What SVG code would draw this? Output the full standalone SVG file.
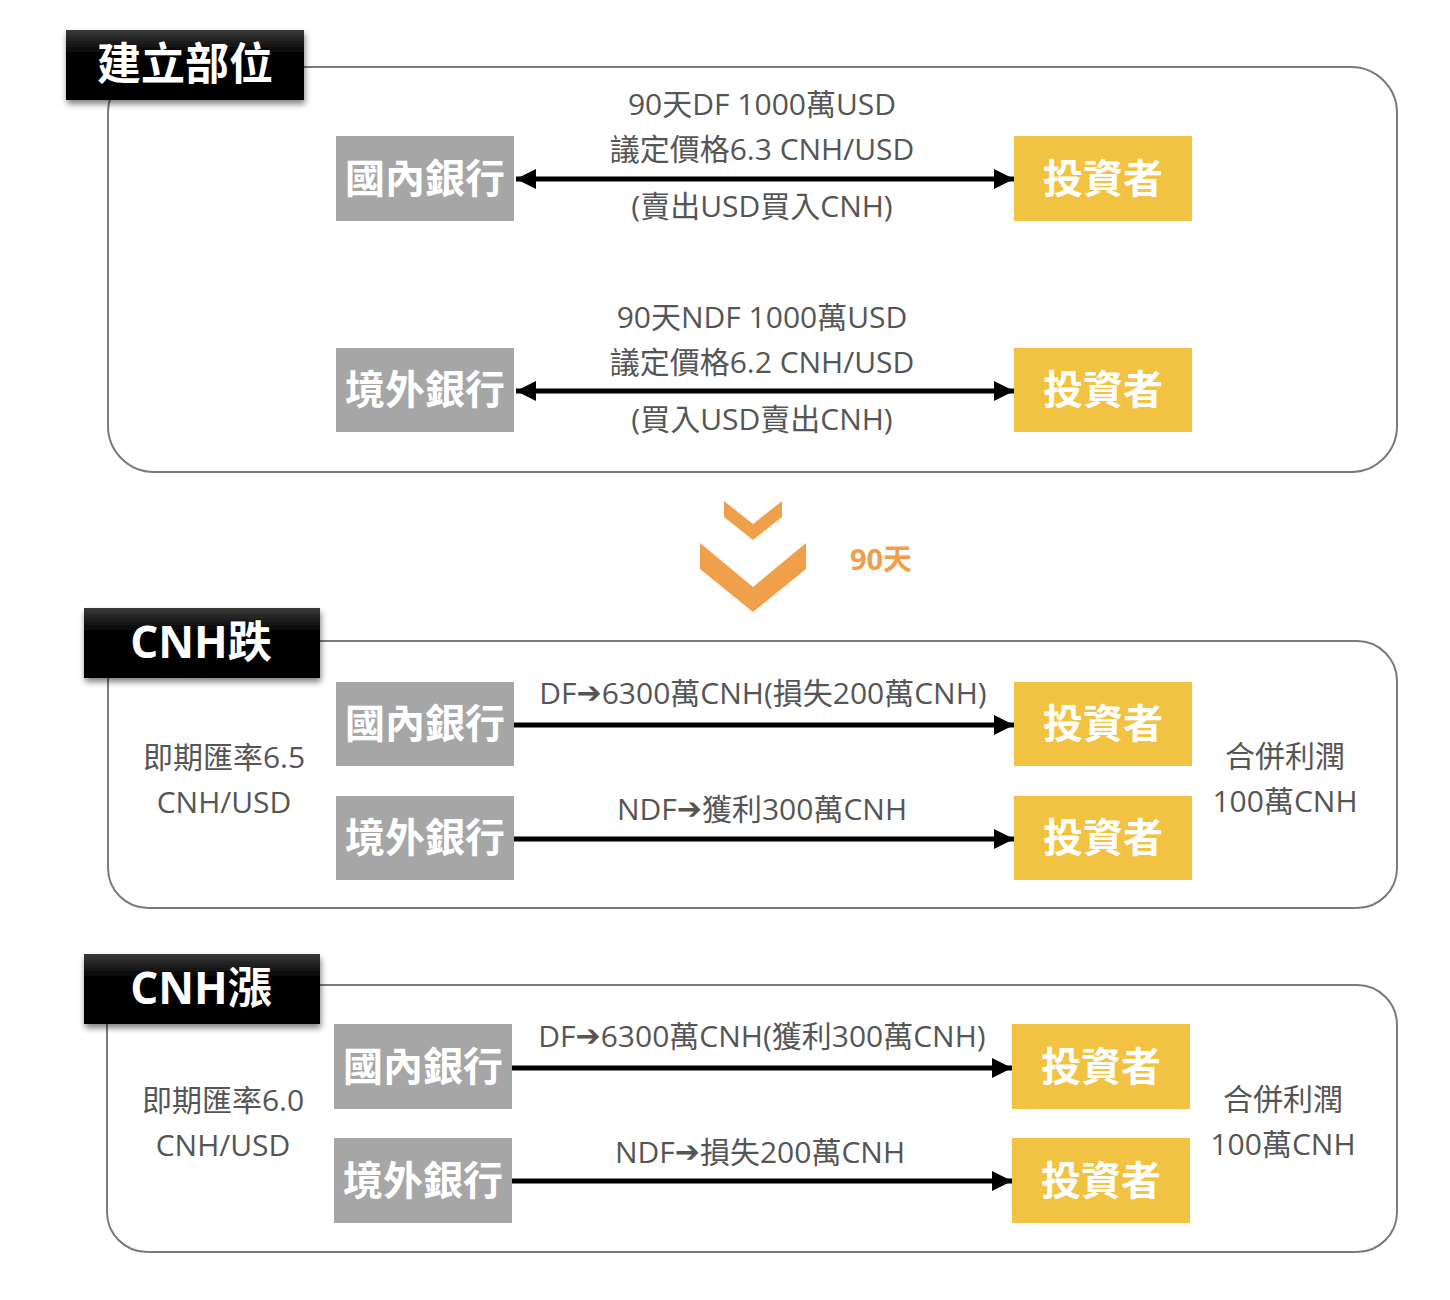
<svg xmlns="http://www.w3.org/2000/svg" width="1450" height="1300" viewBox="0 0 1450 1300">
<defs>
<linearGradient id="hdr" x1="0" y1="0" x2="0" y2="1">
<stop offset="0" stop-color="#3a3a3a"/>
<stop offset="0.35" stop-color="#000"/>
<stop offset="1" stop-color="#000"/>
</linearGradient>
<filter id="sh" x="-10%" y="-20%" width="130%" height="150%">
<feGaussianBlur in="SourceAlpha" stdDeviation="3"/>
<feOffset dx="1" dy="4"/>
<feComponentTransfer><feFuncA type="linear" slope="0.5"/></feComponentTransfer>
<feMerge><feMergeNode/><feMergeNode in="SourceGraphic"/></feMerge>
</filter>
<marker id="ah" viewBox="0 0 10 10" refX="10" refY="5" markerWidth="4" markerHeight="4" orient="auto-start-reverse" markerUnits="strokeWidth">
<path d="M0,0 L10,5 L0,10 z" fill="#000"/>
</marker>
</defs>
<style>
.frame{fill:#fff;stroke:#7a7a7a;stroke-width:2}
.hdr{fill:url(#hdr);filter:url(#sh)}
.ht{font-family:"Open Sans","Noto Sans CJK TC",sans-serif;font-weight:bold;font-size:44px;fill:#fff;text-anchor:middle;dominant-baseline:central}
.gray{fill:#a6a6a6}
.yel{fill:#f2c242}
.nt{font-family:"Noto Sans CJK TC","Noto Sans",sans-serif;font-weight:bold;font-size:40px;fill:#fff;text-anchor:middle;dominant-baseline:central}
.lb{font-family:"Open Sans","Noto Sans CJK TC",sans-serif;font-size:30px;fill:#555;text-anchor:middle;dominant-baseline:central}
.hv{font-family:"DejaVu Sans",sans-serif;font-weight:bold}
.ar{stroke:#000;stroke-width:5;fill:none}
.or{fill:#f0a04b}
</style>

<!-- Section frames -->
<g id="sec1">
<rect class="frame" x="108" y="67" width="1289" height="405" rx="46"/>
<rect class="hdr" x="66" y="30" width="238" height="70"/>
<text class="ht" x="185" y="63">建立部位</text>
</g>
<g id="sec2">
<rect class="frame" x="108" y="641" width="1289" height="267" rx="40"/>
<rect class="hdr" x="84" y="608" width="236" height="70"/>
<text class="ht" x="201" y="641">CNH跌</text>
<text class="lb" x="224" y="756">即期匯率6.5</text>
<text class="lb" x="224" y="801">CNH/USD</text>
<text class="lb" x="1285" y="755">合併利潤</text>
<text class="lb" x="1285" y="800">100萬CNH</text>
</g>
<g id="sec3">
<rect class="frame" x="107" y="985" width="1290" height="267" rx="40"/>
<rect class="hdr" x="84" y="954" width="236" height="70"/>
<text class="ht" x="201" y="987">CNH漲</text>
<text class="lb" x="223" y="1099">即期匯率6.0</text>
<text class="lb" x="223" y="1144">CNH/USD</text>
<text class="lb" x="1283" y="1098">合併利潤</text>
<text class="lb" x="1283" y="1143">100萬CNH</text>
</g>

<!-- Nodes -->
<g id="n1a"><rect class="gray" x="336" y="136" width="178" height="85"/><text class="nt" x="425" y="176">國內銀行</text></g>
<g id="n1b"><rect class="yel" x="1014" y="136" width="178" height="85"/><text class="nt" x="1103" y="176">投資者</text></g>
<g id="n1c"><rect class="gray" x="336" y="348" width="178" height="84"/><text class="nt" x="425" y="387">境外銀行</text></g>
<g id="n1d"><rect class="yel" x="1014" y="348" width="178" height="84"/><text class="nt" x="1103" y="387">投資者</text></g>

<g id="n2a"><rect class="gray" x="336" y="682" width="178" height="84"/><text class="nt" x="425" y="721">國內銀行</text></g>
<g id="n2b"><rect class="yel" x="1014" y="682" width="178" height="84"/><text class="nt" x="1103" y="721">投資者</text></g>
<g id="n2c"><rect class="gray" x="336" y="796" width="178" height="84"/><text class="nt" x="425" y="835">境外銀行</text></g>
<g id="n2d"><rect class="yel" x="1014" y="796" width="178" height="84"/><text class="nt" x="1103" y="835">投資者</text></g>

<g id="n3a"><rect class="gray" x="334" y="1024" width="178" height="85"/><text class="nt" x="423" y="1064">國內銀行</text></g>
<g id="n3b"><rect class="yel" x="1012" y="1024" width="178" height="85"/><text class="nt" x="1101" y="1064">投資者</text></g>
<g id="n3c"><rect class="gray" x="334" y="1138" width="178" height="85"/><text class="nt" x="423" y="1178">境外銀行</text></g>
<g id="n3d"><rect class="yel" x="1012" y="1138" width="178" height="85"/><text class="nt" x="1101" y="1178">投資者</text></g>

<!-- Connectors -->
<g id="connectors">
<line class="ar" x1="516" y1="179" x2="1014" y2="179" marker-start="url(#ah)" marker-end="url(#ah)"/>
<line class="ar" x1="516" y1="391" x2="1014" y2="391" marker-start="url(#ah)" marker-end="url(#ah)"/>
<line class="ar" x1="514" y1="725" x2="1014" y2="725" marker-end="url(#ah)"/>
<line class="ar" x1="514" y1="839" x2="1014" y2="839" marker-end="url(#ah)"/>
<line class="ar" x1="512" y1="1068" x2="1012" y2="1068" marker-end="url(#ah)"/>
<line class="ar" x1="512" y1="1181" x2="1012" y2="1181" marker-end="url(#ah)"/>
</g>

<!-- Connector labels -->
<g id="labels">
<text class="lb" x="762" y="103">90天DF 1000萬USD</text>
<text class="lb" x="762" y="148">議定價格6.3 CNH/USD</text>
<text class="lb" x="762" y="205">(賣出USD買入CNH)</text>
<text class="lb" x="762" y="316">90天NDF 1000萬USD</text>
<text class="lb" x="762" y="361">議定價格6.2 CNH/USD</text>
<text class="lb" x="762" y="418">(買入USD賣出CNH)</text>
<text class="lb" x="763" y="692">DF<tspan class="hv">➔</tspan>6300萬CNH(損失200萬CNH)</text>
<text class="lb" x="762" y="808">NDF<tspan class="hv">➔</tspan>獲利300萬CNH</text>
<text class="lb" x="762" y="1035">DF<tspan class="hv">➔</tspan>6300萬CNH(獲利300萬CNH)</text>
<text class="lb" x="760" y="1151">NDF<tspan class="hv">➔</tspan>損失200萬CNH</text>
</g>

<!-- 90 days chevrons -->
<g id="chevron">
<polygon class="or" points="724,501 753,524 782,501 782,517 753,540 724,517"/>
<polygon class="or" points="700,543 753,587 806,543 806,569 753,612 700,569"/>
<text x="881" y="558" font-family="Open Sans, Noto Sans CJK TC, sans-serif" font-weight="bold" font-size="29" fill="#f0a04b" text-anchor="middle" dominant-baseline="central">90天</text>
</g>
</svg>
